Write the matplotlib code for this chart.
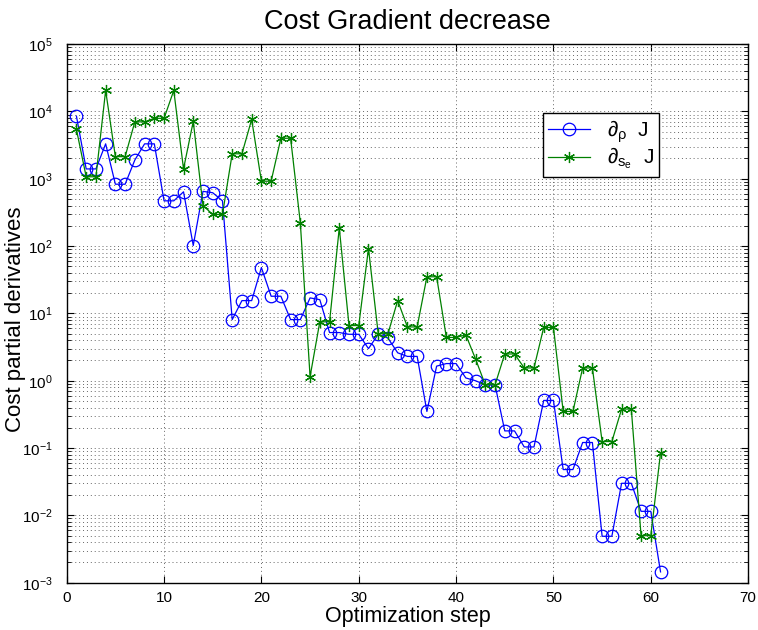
import matplotlib
matplotlib.use('Agg')
import matplotlib.pyplot as plt
import matplotlib as mpl
from matplotlib.ticker import LogLocator, NullFormatter, MultipleLocator

mpl.rcParams['font.family'] = ['Liberation Sans', 'DejaVu Sans']
mpl.rcParams['mathtext.fontset'] = 'custom'
mpl.rcParams['mathtext.rm'] = 'Liberation Sans'
mpl.rcParams['mathtext.it'] = 'Liberation Sans'
mpl.rcParams['mathtext.sf'] = 'Liberation Sans'

# optimization steps
steps = list(range(1, 62))

# d/d rho J
grad_rho = [8500, 1400, 1400, 3300, 830, 830, 1900, 3300, 3300, 470,
            470, 640, 102, 650, 620, 470, 8.1, 15.5, 15.5, 48,
            18, 18, 8.1, 8.1, 17, 16, 5.2, 5.2, 4.9, 4.9,
            3.0, 4.9, 4.3, 2.6, 2.3, 2.3, 0.35, 1.65, 1.8, 1.8,
            1.1, 1.0, 0.87, 0.87, 0.18, 0.18, 0.104, 0.104, 0.51, 0.51,
            0.048, 0.048, 0.121, 0.121, 0.0049, 0.0049, 0.030, 0.030, 0.0115, 0.0115,
            0.00145]

# d/d s_e J
grad_se = [5400, 1070, 1070, 20500, 2130, 2130, 7000, 7000, 7900, 7900,
           20500, 1400, 7100, 400, 295, 295, 2350, 2350, 7600, 920,
           920, 4000, 4000, 220, 1.15, 7.5, 7.5, 186, 6.6, 6.6,
           92, 5.0, 5.0, 15.5, 6.3, 6.3, 35, 35, 4.4, 4.4,
           4.8, 2.1, 0.87, 0.87, 2.5, 2.5, 1.55, 1.55, 6.2, 6.2,
           0.35, 0.35, 1.55, 1.55, 0.125, 0.125, 0.38, 0.38, 0.005, 0.005,
           0.085]

fig = plt.figure(figsize=(7.58, 6.3), dpi=100)
ax = fig.add_axes([0.088, 0.075, 0.899, 0.855])

ax.semilogy(steps, grad_rho, color='b', marker='o', markersize=9, markerfacecolor='none',
            markeredgewidth=0.9, linewidth=0.9, label=r'$\partial_{\rho}$  J')
ax.semilogy(steps, grad_se, color=(0, 0.5, 0), marker=(6, 2, 0), markersize=8,
            markeredgewidth=0.9, linewidth=0.9, label=r'$\partial_{s_e}$  J')

ax.set_xlim(0, 70)
ax.set_ylim(1e-3, 1e5)
ax.xaxis.set_major_locator(MultipleLocator(10))
ax.yaxis.set_major_locator(LogLocator(base=10, numticks=20))
ax.yaxis.set_minor_locator(LogLocator(base=10, subs=range(2, 10), numticks=20))
ax.yaxis.set_minor_formatter(NullFormatter())

ax.grid(which='major', axis='both', linestyle=(0, (1, 3)), linewidth=0.7, color='0.4')
ax.grid(which='minor', axis='y', linestyle=(0, (1, 3)), linewidth=0.7, color='0.4')
ax.tick_params(which='both', direction='in', top=True, right=True, labelsize=11)
ax.tick_params(axis='y', which='major', pad=10)
ax.tick_params(axis='x', which='major', pad=6)
ax.tick_params(which='major', length=5)
ax.tick_params(which='minor', length=3)
for s in ax.spines.values():
    s.set_linewidth(1.0)

ax.set_title('Cost Gradient decrease', fontsize=19.5, pad=11)
ax.set_xlabel('Optimization step', fontsize=15.5, labelpad=1)
ax.set_ylabel('Cost partial derivatives', fontsize=16)
ax.yaxis.set_label_coords(-0.06, 0.49)

leg = ax.legend(loc='upper right', bbox_to_anchor=(0.869, 0.872), fontsize=15,
                fancybox=False, framealpha=1, edgecolor='k', borderpad=0.25,
                handlelength=2.0, labelspacing=0.05, borderaxespad=0)
leg.get_frame().set_linewidth(1.0)

fig.savefig('out.png', dpi=100)
